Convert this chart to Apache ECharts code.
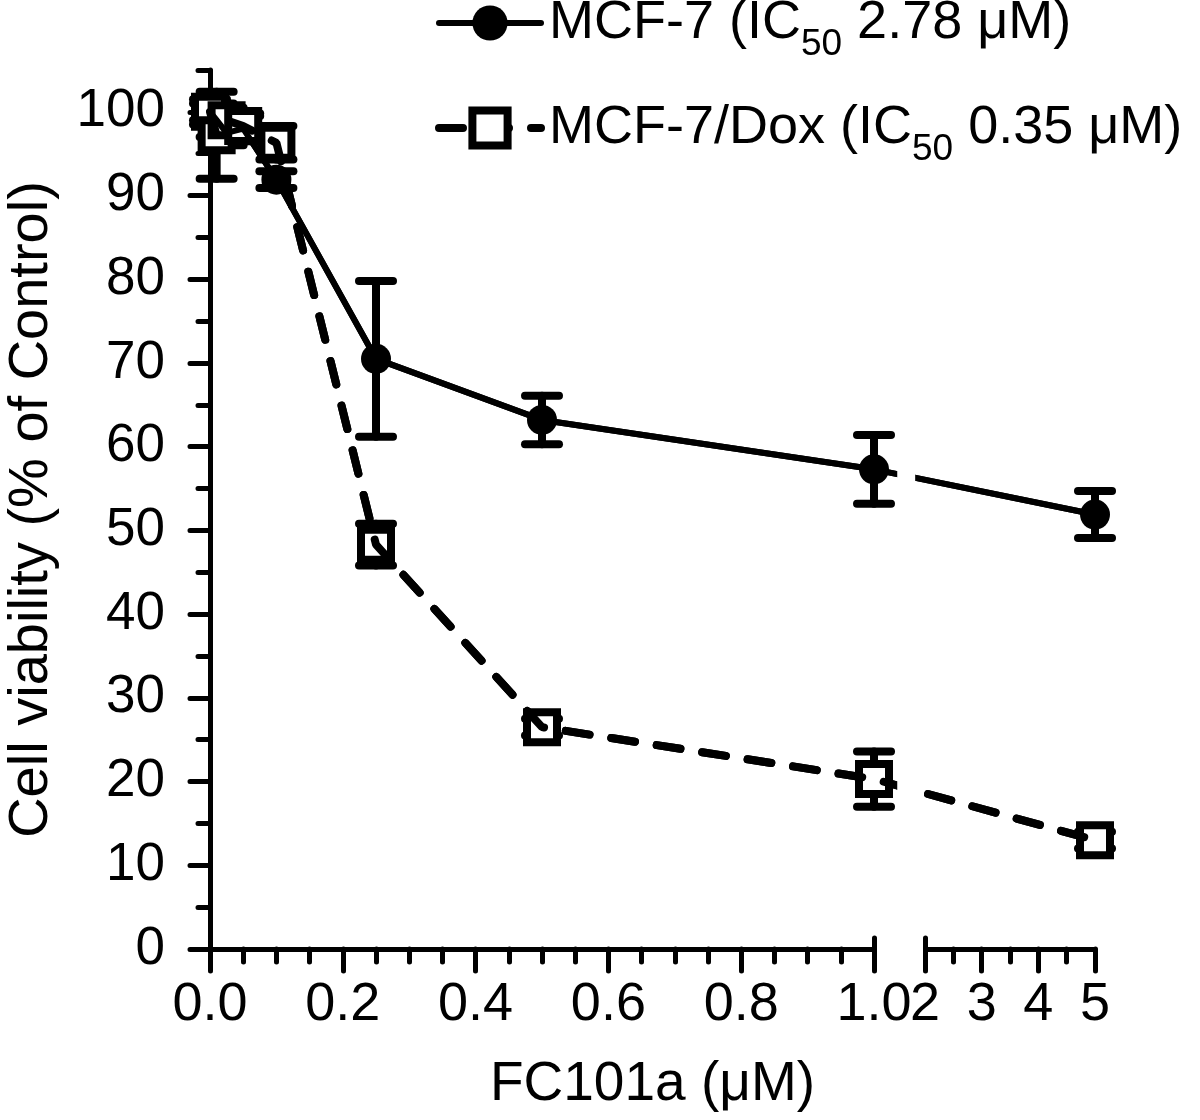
<!DOCTYPE html>
<html>
<head>
<meta charset="utf-8">
<script src="https://cdn.jsdelivr.net/npm/echarts@6/dist/echarts.min.js"></script>
<style>html,body{margin:0;padding:0;background:#fff}#chart{width:1200px;height:1120px}</style>
</head>
<body>
<div id="chart"></div>
<script>
// ---------------- data ----------------
const concentrations = [0, 0.01, 0.025, 0.05, 0.1, 0.25, 0.5, 1, 5];          // FC101a (µM)
const mcf7Mean = [100, 99.0, 97.5, 98.0, 91.9, 70.5, 63.2, 57.3, 51.9];
const mcf7Err  = [1.5, 2.0, 1.5, 1.5, 1.0, 9.3, 2.9, 4.1, 2.8];
const doxMean  = [100, 97.2, 99.0, 98.3, 96.3, 48.3, 26.5, 20.3, 13.0];
const doxErr   = [1.0, 5.2, 1.5, 1.5, 2.0, 2.5, 1.0, 3.3, 1.0];

const seriesNames = ['MCF-7', 'MCF-7/Dox'];
const ic50Values  = ['2.78', '0.35'];

const xMajorTicks  = [0, 0.2, 0.4, 0.6, 0.8, 1.0, 2, 3, 4, 5];
const xMajorLabels = ['0.0', '0.2', '0.4', '0.6', '0.8', '1.0', '2', '3', '4', '5'];
const xMinorTicks  = [0.05, 0.1, 0.15, 0.25, 0.3, 0.35, 0.45, 0.5, 0.55, 0.65, 0.7, 0.75, 0.85, 0.9, 0.95, 2.5, 3.5, 4.5];
const xBreakEnds   = [1, 2];
const yMajorTicks  = [0, 10, 20, 30, 40, 50, 60, 70, 80, 90, 100];
const yMinorTicks  = [5, 15, 25, 35, 45, 55, 65, 75, 85, 95, 105];

// ---------------- broken x scale ----------------
// left segment 0..1 µM is linear; right segment 2..5 µM is compressed after a gap
const LEFT_MAX = 1, RIGHT_MIN = 2;
const RIGHT_START = 1.0768;   // axis units where the right segment begins
const RIGHT_SCALE = 0.08534;  // axis units per µM on the right segment
function toAxis(c) { return c <= LEFT_MAX ? c : RIGHT_START + (c - RIGHT_MIN) * RIGHT_SCALE; }
const X_MAX = toAxis(5);
const GAP_FROM = 1.035, GAP_TO = 1.062; // blank band where the curves cross the break

const FONT = "'Liberation Sans', Arial, Helvetica, sans-serif";
const BLACK = '#000';

function pts(mean) { return concentrations.map((c, i) => [toAxis(c), mean[i]]); }

function errorBars(mean, err, name) {
  return {
    type: 'custom', name: name + ' SD', z: 1, silent: true, clip: false,
    data: concentrations.map((c, i) => [toAxis(c), mean[i] - err[i], mean[i] + err[i]]),
    encode: { x: 0, y: [1, 2] },
    renderItem: function (params, api) {
      const x = api.value(0);
      const lo = api.coord([x, api.value(1)]);
      const hi = api.coord([x, api.value(2)]);
      const hw = 17;
      const st = { stroke: BLACK, lineWidth: 8, lineCap: 'round' };
      return { type: 'group', children: [
        { type: 'line', shape: { x1: lo[0], y1: lo[1], x2: hi[0], y2: hi[1] }, style: st },
        { type: 'line', shape: { x1: lo[0] - hw, y1: lo[1], x2: lo[0] + hw, y2: lo[1] }, style: st },
        { type: 'line', shape: { x1: hi[0] - hw, y1: hi[1], x2: hi[0] + hw, y2: hi[1] }, style: st }
      ]};
    }
  };
}

const mcfLine = { color: BLACK, width: 6, type: 'solid', cap: 'round' };
const doxLine = { color: BLACK, width: 8, type: [24, 22], cap: 'round' };

function xAxisBase(extra) {
  return Object.assign({
    type: 'value', min: 0, max: X_MAX, position: 'bottom', offset: 0,
    axisLine: { show: false }, splitLine: { show: false },
    axisLabel: { show: false }
  }, extra);
}
function yAxisBase(extra) {
  return Object.assign({
    type: 'value', min: 0, max: 105, position: 'left', offset: 0,
    splitLine: { show: false }, axisLabel: { show: false }, axisLine: { show: false }
  }, extra);
}

const option = {
  animation: false,
  backgroundColor: '#fff',
  textStyle: { fontFamily: FONT, color: BLACK },
  grid: { left: 210, right: 105, top: 70, bottom: 171, containLabel: false, outerBoundsMode: 'none' },
  legend: {
    data: [
      { name: seriesNames[0], lineStyle: { width: 6, type: 'solid', color: BLACK } },
      { name: seriesNames[1], lineStyle: { width: 8, type: [24, 22], color: BLACK, cap: 'round' },
        itemStyle: { borderWidth: 8, borderColor: BLACK, color: '#fff' } }
    ],
    orient: 'vertical',
    left: 430, top: -22,
    itemWidth: 102, itemHeight: 44, itemGap: 25,
    selectedMode: false,
    formatter: function (name) {
      const i = seriesNames.indexOf(name);
      return name + ' (IC{sub|50} ' + ic50Values[i] + ' \u03bcM)';
    },
    textStyle: {
      fontFamily: FONT, fontSize: 54, color: BLACK, lineHeight: 80, padding: [0, 0, 0, 3],
      rich: { sub: { fontFamily: FONT, fontSize: 37, color: BLACK, lineHeight: 80, verticalAlign: 'bottom' } }
    }
  },
  xAxis: [
    xAxisBase({
      name: 'FC101a (\u03bcM)', nameLocation: 'middle', nameGap: 108,
      nameTextStyle: { fontFamily: FONT, fontSize: 55, color: BLACK },
      axisTick: { show: true, length: 22, customValues: xMajorTicks.map(toAxis),
                  lineStyle: { color: BLACK, width: 5, cap: 'round' } },
      axisLabel: { show: true, customValues: xMajorTicks.map(toAxis), margin: 29,
                   fontFamily: FONT, fontSize: 54, color: BLACK,
                   formatter: function (v) {
                     let best = 0, d = Infinity;
                     xMajorTicks.forEach((t, i) => { const dd = Math.abs(toAxis(t) - v); if (dd < d) { d = dd; best = i; } });
                     return xMajorLabels[best];
                   } }
    }),
    xAxisBase({
      axisTick: { show: true, length: 13, customValues: xMinorTicks.map(toAxis),
                  lineStyle: { color: BLACK, width: 5, cap: 'round' } }
    }),
    xAxisBase({
      axisTick: { show: true, inside: true, length: 11, customValues: xBreakEnds.map(toAxis),
                  lineStyle: { color: BLACK, width: 5, cap: 'round' } }
    })
  ],
  yAxis: [
    yAxisBase({
      name: 'Cell viability (% of Control)', nameLocation: 'middle', nameGap: 150,
      nameTextStyle: { fontFamily: FONT, fontSize: 56, color: BLACK },
      axisLine: { show: true, onZero: false, lineStyle: { color: BLACK, width: 5 } },
      axisTick: { show: true, length: 20, customValues: yMajorTicks,
                  lineStyle: { color: BLACK, width: 5, cap: 'round' } },
      axisLabel: { show: true, customValues: yMajorTicks, margin: 45,
                   fontFamily: FONT, fontSize: 53, color: BLACK }
    }),
    yAxisBase({
      axisTick: { show: true, length: 12, customValues: yMinorTicks,
                  lineStyle: { color: BLACK, width: 5, cap: 'round' } }
    })
  ],
  series: [
    errorBars(mcf7Mean, mcf7Err, seriesNames[0]),
    errorBars(doxMean, doxErr, seriesNames[1]),
    {
      name: seriesNames[0], type: 'line', z: 2, data: pts(mcf7Mean),
      symbol: 'circle', symbolSize: 30, showAllSymbol: true,
      itemStyle: { color: BLACK, borderWidth: 0 },
      lineStyle: mcfLine, emphasis: { disabled: true }, silent: true
    },
    {
      name: seriesNames[1], type: 'line', z: 2, data: pts(doxMean),
      symbol: 'rect', symbolSize: 30, showAllSymbol: true,
      itemStyle: { color: '#fff', borderColor: BLACK, borderWidth: 8 },
      lineStyle: doxLine, emphasis: { disabled: true }, silent: true
    },
    // curves drawn again above the markers, as in the original figure
    { name: 'mcf-over', type: 'line', z: 3, data: pts(mcf7Mean), showSymbol: false, symbol: 'none',
      lineStyle: mcfLine, silent: true, emphasis: { disabled: true } },
    { name: 'dox-over', type: 'line', z: 3, data: pts(doxMean), showSymbol: false, symbol: 'none',
      lineStyle: doxLine, silent: true, emphasis: { disabled: true } },
    // broken x axis line + blank band at the break
    {
      name: 'axis-break', type: 'line', z: 10, data: [], clip: false, silent: true,
      markLine: {
        silent: true, symbol: ['none', 'none'], label: { show: false }, z: 10,
        lineStyle: { color: BLACK, width: 5, type: 'solid' },
        emphasis: { disabled: true },
        data: [
          [{ coord: [0, 0] }, { coord: [toAxis(LEFT_MAX), 0] }],
          [{ coord: [toAxis(RIGHT_MIN), 0] }, { coord: [X_MAX, 0] }]
        ]
      },
      markArea: {
        silent: true, z: 10, itemStyle: { color: '#fff' }, label: { show: false },
        emphasis: { disabled: true },
        data: [[{ coord: [GAP_FROM, 2] }, { coord: [GAP_TO, 85] }]]
      }
    }
  ]
};

const chart = echarts.init(document.getElementById('chart'), null, { renderer: 'canvas' });
chart.setOption(option);
</script>
</body>
</html>
